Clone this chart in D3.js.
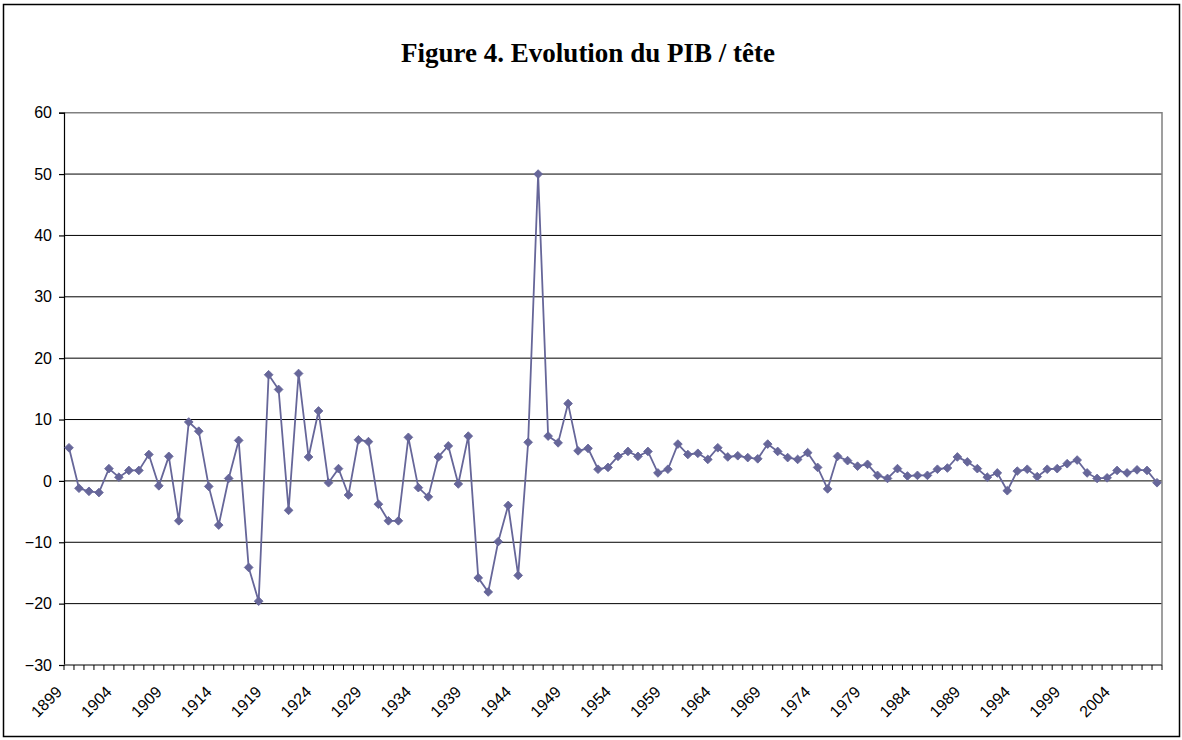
<!DOCTYPE html>
<html>
<head>
<meta charset="utf-8">
<script src="https://cdn.jsdelivr.net/npm/d3@7"></script>
<style>
  body { margin: 0; background: #fff; }
  svg { display: block; }
</style>
</head>
<body>
<svg id="chart"></svg>
<script>
// Years 1899..2008 (one category per year)
const years = d3.range(1899, 2009);

// PIB / tête growth, %
const values = [
  5.4, -1.2, -1.7, -1.9, 2.0, 0.6, 1.7, 1.7, 4.3, -0.8,
  4.0, -6.5, 9.6, 8.1, -0.9, -7.2, 0.4, 6.6, -14.1, -19.6,
  17.3, 14.9, -4.8, 17.5, 3.9, 11.4, -0.3, 2.0, -2.3, 6.7,
  6.4, -3.8, -6.5, -6.5, 7.1, -1.1, -2.6, 3.9, 5.7, -0.5,
  7.3, -15.8, -18.1, -9.9, -4.0, -15.4, 6.3, 50.0, 7.3, 6.2,
  12.6, 4.9, 5.3, 1.9, 2.2, 4.0, 4.8, 4.0, 4.8, 1.3,
  1.9, 6.0, 4.3, 4.5, 3.5, 5.4, 3.9, 4.1, 3.8, 3.6,
  6.0, 4.8, 3.8, 3.5, 4.6, 2.2, -1.3, 4.0, 3.3, 2.4,
  2.7, 0.9, 0.4, 2.0, 0.8, 0.9, 0.9, 1.9, 2.1, 3.9,
  3.1, 2.0, 0.6, 1.3, -1.6, 1.6, 1.9, 0.7, 1.9, 2.0,
  2.8, 3.4, 1.3, 0.4, 0.5, 1.7, 1.3, 1.8, 1.7, -0.3
];

const yTicks = [-30, -20, -10, 0, 10, 20, 30, 40, 50, 60];
const labelYears = years.filter((d, i) => i % 5 === 0 && d <= 2004);

const data = years.map((y, i) => ({ year: y, value: values[i] }));

const width = 1182;
const height = 740;
const margin = { top: 112.7, left: 64 };
const plotRight = 1162;
const plotBottom = 665;

const svg = d3.select("#chart").attr("width", width).attr("height", height);

svg.append("rect")
  .attr("width", width).attr("height", height)
  .attr("fill", "#fff");

// outer frame
svg.append("rect")
  .attr("x", 3.5).attr("y", 4.5)
  .attr("width", 1176).attr("height", 732)
  .attr("fill", "none")
  .attr("stroke", "#000")
  .attr("stroke-width", 1.5);

// title
svg.append("text")
  .attr("x", 588)
  .attr("y", 62)
  .attr("text-anchor", "middle")
  .style("font-family", "'Liberation Serif', 'Times New Roman', serif")
  .style("font-weight", "bold")
  .style("font-size", "27px")
  .text("Figure 4. Evolution du PIB / tête");

const x = d3.scaleBand()
  .domain(years)
  .range([margin.left, plotRight])
  .padding(0);

const y = d3.scaleLinear()
  .domain([-30, 60])
  .range([plotBottom, margin.top]);

// gridlines
svg.append("g")
  .selectAll("line")
  .data(yTicks.filter(d => d > -30 && d < 60))
  .enter()
  .append("line")
  .attr("x1", margin.left)
  .attr("x2", plotRight)
  .attr("y1", d => y(d))
  .attr("y2", d => y(d))
  .attr("stroke", "#000")
  .attr("stroke-width", 1);

// plot area border (top and right)
svg.append("path")
  .attr("d", `M${margin.left},${y(60)}H${plotRight}V${plotBottom}`)
  .attr("fill", "none")
  .attr("stroke", "#808080")
  .attr("stroke-width", 1.5);

// y axis
const yAxis = d3.axisLeft(y)
  .tickValues(yTicks)
  .tickSize(5)
  .tickPadding(7)
  .tickFormat(d3.format("d"));

const gy = svg.append("g")
  .attr("transform", `translate(${margin.left},0)`)
  .call(yAxis);

gy.selectAll("path, line").attr("stroke", "#000").attr("stroke-width", 1.2);
gy.selectAll("text")
  .style("font-family", "'Liberation Sans', Arial, sans-serif")
  .style("font-size", "16px")
  .attr("fill", "#000");

// x axis line and ticks between categories
const gx = svg.append("g");

gx.append("line")
  .attr("x1", margin.left).attr("x2", plotRight)
  .attr("y1", plotBottom).attr("y2", plotBottom)
  .attr("stroke", "#555")
  .attr("stroke-width", 1.5);

gx.selectAll(".tick")
  .data(years.concat([null]))
  .enter()
  .append("line")
  .attr("class", "tick")
  .attr("x1", d => d === null ? plotRight : x(d))
  .attr("x2", d => d === null ? plotRight : x(d))
  .attr("y1", plotBottom)
  .attr("y2", plotBottom + 5)
  .attr("stroke", "#000")
  .attr("stroke-width", 1);

gx.selectAll(".label")
  .data(labelYears)
  .enter()
  .append("text")
  .attr("class", "label")
  .attr("text-anchor", "end")
  .attr("transform", d => `translate(${x(d) + x.bandwidth() / 2 - 6},${plotBottom + 28}) rotate(-45)`)
  .style("font-family", "'Liberation Sans', Arial, sans-serif")
  .style("font-size", "16px")
  .text(d => d);

// series line
const line = d3.line()
  .x(d => x(d.year) + x.bandwidth() / 2)
  .y(d => y(d.value));

svg.append("path")
  .datum(data)
  .attr("d", line)
  .attr("fill", "none")
  .attr("stroke", "#666699")
  .attr("stroke-width", 1.8);

// diamond markers
const diamond = d3.symbol().type(d3.symbolSquare).size(38);

svg.append("g")
  .selectAll("path")
  .data(data)
  .enter()
  .append("path")
  .attr("d", diamond)
  .attr("transform", d => `translate(${x(d.year) + x.bandwidth() / 2},${y(d.value)}) rotate(45)`)
  .attr("fill", "#666699")
  .attr("stroke", "#666699")
  .attr("stroke-width", 0.8);
</script>
</body>
</html>
